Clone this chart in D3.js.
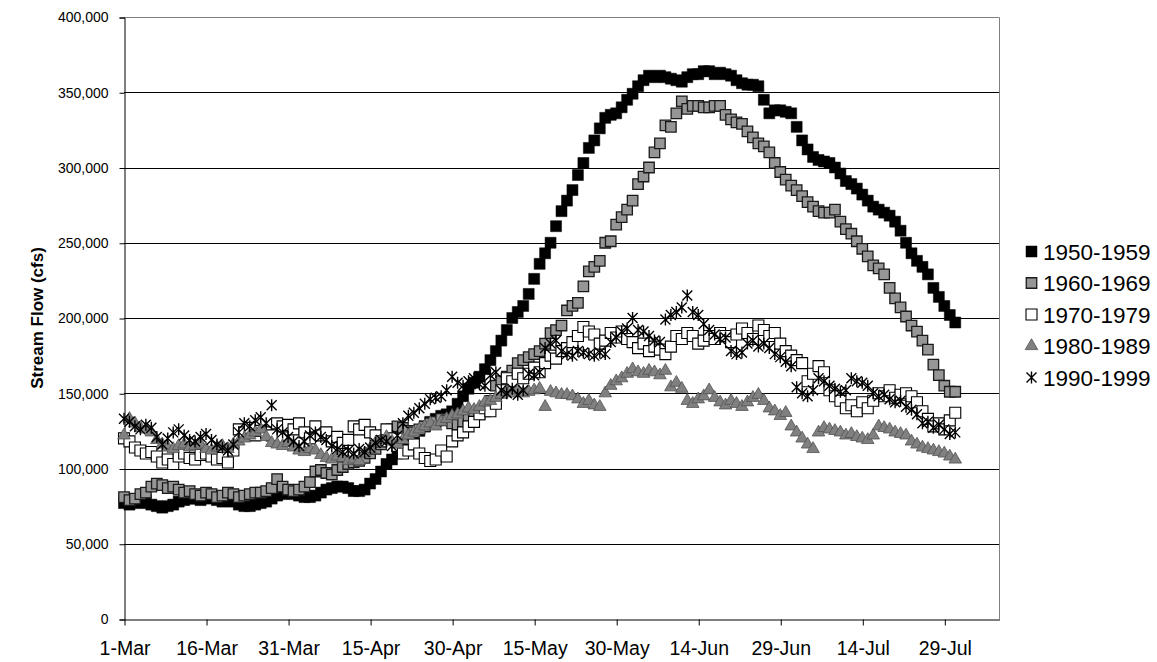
<!DOCTYPE html>
<html>
<head>
<meta charset="utf-8">
<script src="https://cdn.jsdelivr.net/npm/d3@7"></script>
<style>
  body { margin: 0; background: #fff; }
  text { font-family: "Liberation Sans", Arial, sans-serif; }
</style>
</head>
<body>
<script>
// daily mean flow by decade, 1-Mar .. 31-Jul, thousands of cfs
var seriesNames = ["1950-1959", "1960-1969", "1970-1979", "1980-1989", "1990-1999"];
var tickLabels = ["1-Mar", "16-Mar", "31-Mar", "15-Apr", "30-Apr", "15-May",
                  "30-May", "14-Jun", "29-Jun", "14-Jul", "29-Jul"];
var yTicks = [0, 50, 100, 150, 200, 250, 300, 350, 400];

var flow1950 = [77,76,78,77,79,76,75,74,75,76, 78,79,80,80,79,81,80,79,78,79,
  78,76,75,75,76,77,78,80,82,83, 84,83,82,81,81,82,84,86,87,88,
  88,87,85,85,86,90,93,98,103,106, 110,115,118,122,125,128,131,133,135,136,
  138,143,148,153,157,161,166,172,178,185, 192,200,204,208,216,226,236,243,250,261,
  271,278,285,295,303,313,318,326,333,335, 336,340,345,349,354,358,361,360,361,360,
  359,358,357,360,362,362,364,364,362,363, 362,361,358,356,355,355,354,345,336,338,
  338,337,336,327,318,312,307,305,304,303, 300,296,291,289,286,282,278,274,272,270,
  268,264,258,250,243,238,234,229,220,214, 208,202,197];

var flow1960 = [81,79,80,83,84,88,90,89,87,88, 86,84,85,83,82,84,83,81,82,84,
  83,81,82,83,84,84,85,87,93,88, 86,85,86,88,91,98,99,97,96,99,
  101,103,104,105,107,110,113,116,120,126, 128,127,125,124,126,128,130,131,133,132,
  130,129,131,133,135,136,138,145,155,158, 161,165,170,172,174,176,178,183,190,192,
  195,205,208,210,221,231,234,238,250,251, 262,267,272,278,289,294,300,310,316,328,
  327,336,344,339,341,341,340,340,341,341, 335,332,330,329,324,320,316,314,310,303,
  297,292,288,285,281,277,274,271,270,270, 272,264,259,256,251,246,241,235,233,229,
  220,213,207,201,195,191,185,179,169,162, 155,151,151];

var flow1970 = [120,118,114,112,110,111,108,104,106,103, 108,110,107,106,109,110,108,106,107,104,
  112,126,124,127,122,125,124,122,130,128, 129,126,130,124,120,128,122,124,118,121,
  117,119,128,126,129,124,122,118,126,120, 115,110,112,116,110,107,105,106,112,108,
  118,122,124,128,131,136,140,138,143,152, 160,158,163,160,163,167,164,170,175,173,
  178,180,184,188,194,191,189,183,185,190, 187,191,186,184,180,183,178,181,179,176,
  181,188,186,190,188,183,185,188,186,190, 188,184,189,193,190,186,195,192,188,190,
  183,178,175,172,170,158,163,168,164,152, 148,145,140,142,138,144,140,145,150,148,
  152,147,149,150,148,144,138,133,128,130, 126,132,137];

var flow1980 = [122,133,130,127,126,124,119,116,114,113, 115,116,114,115,116,113,112,114,115,113,
  116,118,120,122,124,126,121,117,116,115, 117,114,112,111,113,112,109,107,106,108,
  107,105,106,105,110,113,117,119,121,118, 116,119,122,124,126,128,130,128,131,133,
  135,136,138,140,139,141,144,145,147,149, 151,150,152,150,151,152,153,141,151,150,
  149,149,148,146,143,145,142,141,150,155, 158,160,163,166,164,163,165,164,162,165,
  154,157,153,145,143,146,148,152,147,144, 142,145,143,141,144,147,149,145,140,138,
  135,137,128,124,120,116,113,124,127,126, 125,124,122,123,121,120,119,122,128,127,
  126,124,123,122,118,116,114,113,112,111, 110,108,106];

var flow1990 = [133,131,128,126,129,127,121,116,120,124, 126,122,119,118,121,123,119,116,114,112,
  116,124,130,128,132,134,130,142,126,124, 121,118,115,118,122,124,121,119,115,113,
  111,112,110,113,111,114,117,119,118,115, 122,130,135,137,140,143,146,147,148,152,
  161,157,155,158,160,156,155,162,164,152, 150,153,149,152,163,162,164,180,183,185,
  178,176,175,178,177,176,175,177,176,184, 187,191,193,200,192,191,188,185,184,199,
  202,204,207,215,204,202,196,192,189,186, 187,178,176,177,183,185,181,183,180,176,
  174,171,168,154,150,148,152,160,158,155, 153,151,152,160,158,157,155,150,148,149,
  146,144,145,141,139,136,130,131,127,129, 126,123,124];

var W = 1157, H = 662;
var plot = {left: 124, right: 999, top: 17, bottom: 619};

var svg = d3.select("body").append("svg")
    .attr("width", W)
    .attr("height", H);

var parseTick = d3.utcParse("%d-%b-%Y");
var startDate = parseTick("1-Mar-2001"),
    endDate = parseTick("8-Aug-2001");
var dayDate = function(i) { return d3.utcDay.offset(startDate, i); };

var x = d3.scaleUtc()
    .domain([startDate, endDate])
    .range([plot.left, plot.right]);

var y = d3.scaleLinear()
    .domain([0, 400])
    .range([plot.bottom, plot.top]);

// gridlines
svg.append("g")
  .selectAll("line")
  .data(yTicks.filter(function(d) { return d > 0 && d < 400; }))
  .enter().append("line")
    .attr("x1", plot.left)
    .attr("x2", plot.right)
    .attr("y1", function(d) { return Math.round(y(d)) + 0.5; })
    .attr("y2", function(d) { return Math.round(y(d)) + 0.5; })
    .attr("stroke", "#000")
    .attr("stroke-width", 1);

// plot area border (top + right in grey)
svg.append("path")
    .attr("d", "M" + plot.left + "," + (plot.top + 0.5) + "H" + (plot.right + 0.5) + "V" + plot.bottom)
    .attr("fill", "none")
    .attr("stroke", "#808080")
    .attr("stroke-width", 1);

// axes
var yAxis = d3.axisLeft(y)
    .tickValues(yTicks)
    .tickSize(5)
    .tickPadding(11)
    .tickFormat(function(d) { return d3.format(",")(d * 1000); });

svg.append("g")
    .attr("transform", "translate(" + (plot.left + 0.5) + ",0.5)")
    .call(yAxis)
    .call(function(g) {
      g.select(".domain").attr("stroke", "#000");
      g.selectAll("line").attr("stroke", "#000");
      g.selectAll("text").attr("font-size", 14).attr("fill", "#000");
    });

var xAxis = d3.axisBottom(x)
    .tickValues(tickLabels.map(function(t) { return parseTick(t + "-2001"); }))
    .tickSize(6)
    .tickSizeOuter(0)
    .tickPadding(16)
    .tickFormat(d3.utcFormat("%-d-%b"));

svg.append("g")
    .attr("transform", "translate(0.5," + (plot.bottom + 0.5) + ")")
    .call(xAxis)
    .call(function(g) {
      g.select(".domain").attr("stroke", "#000");
      g.selectAll("line").attr("stroke", "#000");
      g.selectAll("text").attr("font-size", 19.5).attr("fill", "#000");
    });

svg.append("text")
    .attr("transform", "translate(43," + ((plot.top + plot.bottom) / 2) + ") rotate(-90)")
    .attr("text-anchor", "middle")
    .attr("font-size", 17)
    .attr("font-weight", "bold")
    .text("Stream Flow (cfs)");

// marker styles per series
var asterisk = "M-5,-5L5,5M-5,5L5,-5M0,-6L0,6";
var styles = [
  {path: d3.symbol(d3.symbolSquare, 121)(), fill: "#000", stroke: "#000", sw: 0.5},
  {path: d3.symbol(d3.symbolSquare, 110)(), fill: "#969696", stroke: "#1a1a1a", sw: 1.3},
  {path: d3.symbol(d3.symbolSquare, 121)(), fill: "#fff", stroke: "#000", sw: 1.1},
  {path: d3.symbol(d3.symbolTriangle, 68)(), fill: "#808080", stroke: "#505050", sw: 0.8},
  {path: asterisk, fill: "none", stroke: "#000", sw: 1.4}
];
var allFlows = [flow1950, flow1960, flow1970, flow1980, flow1990];

allFlows.forEach(function(vals, s) {
  svg.append("g")
    .selectAll("path")
    .data(vals)
    .enter().append("path")
      .attr("d", styles[s].path)
      .attr("transform", function(d, i) {
        return "translate(" + x(dayDate(i)) + "," + y(d) + ")";
      })
      .attr("fill", styles[s].fill)
      .attr("stroke", styles[s].stroke)
      .attr("stroke-width", styles[s].sw);
});

// legend
var legend = svg.append("g")
  .selectAll("g")
  .data(seriesNames)
  .enter().append("g")
    .attr("transform", function(d, i) { return "translate(1031.5," + (251.5 + i * 31.5) + ")"; });

legend.append("path")
    .attr("d", function(d, i) { return styles[i].path; })
    .attr("fill", function(d, i) { return styles[i].fill; })
    .attr("stroke", function(d, i) { return styles[i].stroke; })
    .attr("stroke-width", function(d, i) { return styles[i].sw; });

legend.append("text")
    .attr("x", 11.5)
    .attr("dy", "0.36em")
    .attr("font-size", 22.5)
    .text(function(d) { return d; });
</script>
</body>
</html>
